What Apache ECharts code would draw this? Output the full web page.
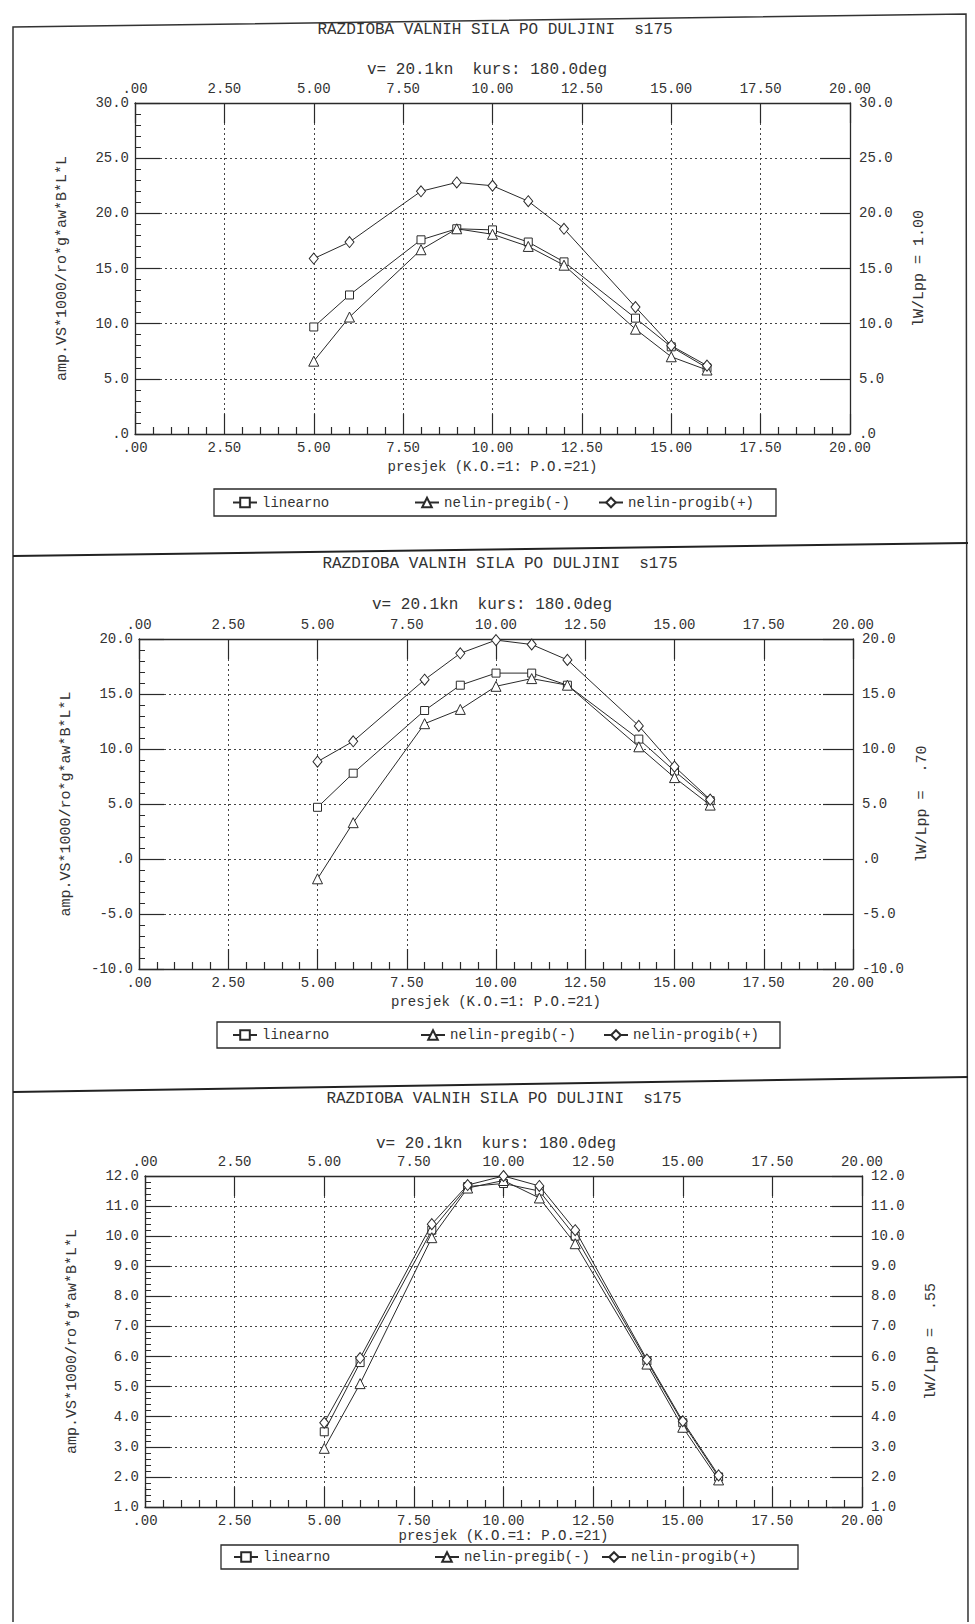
<!DOCTYPE html>
<html>
<head>
<meta charset="utf-8">
<script src="https://cdn.jsdelivr.net/npm/echarts@6/dist/echarts.min.js"></script>
<style>
html,body{margin:0;padding:0;background:#ffffff;}
#c{width:975px;height:1624px;}
</style>
</head>
<body>
<div id="c"></div>
<script>
// ---------------- data ----------------
const sectionX = [5, 6, 8, 9, 10, 11, 12, 14, 15, 16];
const seriesNames = ['linearno', 'nelin-pregib(-)', 'nelin-progib(+)'];

// panel 1 : lW/Lpp = 1.00
const p1Linearno = [9.7, 12.6, 17.6, 18.6, 18.5, 17.4, 15.6, 10.5, 7.9, 6.0];
const p1Pregib   = [6.6, 10.6, 16.7, 18.6, 18.1, 17.0, 15.3, 9.5, 7.0, 5.8];
const p1Progib   = [15.9, 17.4, 22.0, 22.8, 22.5, 21.1, 18.6, 11.5, 8.0, 6.2];

// panel 2 : lW/Lpp = .70
const p2Linearno = [4.7, 7.8, 13.5, 15.8, 16.9, 16.9, 15.8, 10.9, 8.0, 5.3];
const p2Pregib   = [-1.8, 3.3, 12.3, 13.6, 15.7, 16.4, 15.8, 10.2, 7.4, 4.9];
const p2Progib   = [8.85, 10.7, 16.3, 18.7, 19.9, 19.5, 18.1, 12.1, 8.4, 5.4];

// panel 3 : lW/Lpp = .55
const p3Linearno = [3.5, 5.8, 10.2, 11.65, 11.75, 11.5, 10.0, 5.85, 3.8, 2.0];
const p3Pregib   = [2.95, 5.1, 9.95, 11.6, 11.85, 11.27, 9.75, 5.75, 3.65, 1.9];
const p3Progib   = [3.8, 5.95, 10.4, 11.7, 12.0, 11.67, 10.2, 5.9, 3.85, 2.05];

const mainTitle = 'RAZDIOBA VALNIH SILA PO DULJINI  s175';
const subTitle = 'v= 20.1kn  kurs: 180.0deg';
const xAxisName = 'presjek (K.O.=1: P.O.=21)';
const yAxisName = 'amp.VS*1000/ro*g*aw*B*L*L';
const rightNames = ['lW/Lpp = 1.00', 'lW/Lpp =  .70', 'lW/Lpp =  .55'];

const xMin = 0, xMax = 20, xStep = 2.5;
const yRanges = [
  {min: 0, max: 30, step: 5},
  {min: -10, max: 20, step: 5},
  {min: 1, max: 12, step: 1}
];
const panelData = [
  [p1Linearno, p1Pregib, p1Progib],
  [p2Linearno, p2Pregib, p2Progib],
  [p3Linearno, p3Pregib, p3Progib]
];

// ---------------- layout / style ----------------
const FONT = '"Liberation Mono", "DejaVu Sans Mono", monospace';
const INK = '#2a2a2a';
const TXT = '#333333';
const grids = [
  {left: 135, top: 103, width: 715, height: 331},
  {left: 139, top: 639, width: 714, height: 330},
  {left: 145, top: 1176, width: 717, height: 331}
];
const titlePos = [
  {x: 495, t: 22, s: 62},
  {x: 500, t: 556, s: 597},
  {x: 504, t: 1091, s: 1136}
];
const presjekGap = [26, 26, 18];
const legendBoxes = [
  {x: 214, y: 489, w: 562, h: 27, items: [232, 414, 598]},
  {x: 217, y: 1022, w: 563, h: 26, items: [232, 420, 603]},
  {x: 221, y: 1545, w: 577, h: 24, items: [233, 434, 601]}
];
const symbols = ['rect', 'triangle', 'diamond'];
const symbolSizes = [8, 10, [9, 11]];

const fmtX = v => (v === 0 ? '.00' : v.toFixed(2));
const fmtY = v => (v === 0 ? '.0' : v.toFixed(1));

const title = [], xAxis = [], yAxis = [], series = [], legend = [], graphic = [];

grids.forEach((g, i) => {
  const tp = titlePos[i];
  title.push({text: mainTitle, left: tp.x, top: tp.t, textAlign: 'center', padding: 0,
    textStyle: {fontFamily: FONT, fontSize: 16, fontWeight: 'normal', color: TXT}});
  title.push({text: subTitle, left: tp.x - 8, top: tp.s, textAlign: 'center', padding: 0,
    textStyle: {fontFamily: FONT, fontSize: 16, fontWeight: 'normal', color: TXT}});

  // bottom x axis
  xAxis.push({
    type: 'value', gridIndex: i, position: 'bottom', min: xMin, max: xMax, interval: xStep,
    axisLine: {show: true, onZero: false, lineStyle: {color: INK, width: 1.3}},
    axisTick: {show: true, inside: true, length: 20, lineStyle: {color: INK, width: 1.2}},
    minorTick: {show: true, splitNumber: 5, length: 7, lineStyle: {color: INK, width: 1.2}},
    axisLabel: {margin: 7, formatter: fmtX, fontFamily: FONT, fontSize: 14, color: TXT},
    splitLine: {show: true, lineStyle: {color: '#444', width: 1, type: [2, 3]}},
    name: xAxisName, nameLocation: 'middle', nameGap: presjekGap[i],
    nameTextStyle: {fontFamily: FONT, fontSize: 14, color: TXT}
  });
  // top x axis
  xAxis.push({
    type: 'value', gridIndex: i, position: 'top', min: xMin, max: xMax, interval: xStep,
    axisLine: {show: true, onZero: false, lineStyle: {color: INK, width: 1.3}},
    axisTick: {show: true, inside: true, length: 20, lineStyle: {color: INK, width: 1.2}},
    axisLabel: {margin: 7, formatter: fmtX, fontFamily: FONT, fontSize: 14, color: TXT},
    splitLine: {show: false}
  });
  const r = yRanges[i];
  yAxis.push({
    type: 'value', gridIndex: i, position: 'left', min: r.min, max: r.max, interval: r.step,
    axisLine: {show: true, onZero: false, lineStyle: {color: INK, width: 1.3}},
    axisTick: {show: true, inside: true, length: 25, lineStyle: {color: INK, width: 1.2}},
    minorTick: {show: true, splitNumber: 5, length: 6, lineStyle: {color: INK, width: 1}},
    axisLabel: {margin: 6, formatter: fmtY, fontFamily: FONT, fontSize: 14, color: TXT},
    splitLine: {show: true, lineStyle: {color: '#444', width: 1, type: [2, 3]}},
    name: yAxisName, nameLocation: 'middle', nameGap: 65, nameRotate: 90,
    nameTextStyle: {fontFamily: FONT, fontSize: 15, color: TXT}
  });
  yAxis.push({
    type: 'value', gridIndex: i, position: 'right', min: r.min, max: r.max, interval: r.step,
    axisLine: {show: true, onZero: false, lineStyle: {color: INK, width: 1.3}},
    axisTick: {show: true, inside: true, length: 30, lineStyle: {color: INK, width: 1.2}},
    axisLabel: {margin: 9, formatter: fmtY, fontFamily: FONT, fontSize: 14, color: TXT},
    splitLine: {show: false},
    name: rightNames[i], nameLocation: 'middle', nameGap: 62, nameRotate: 90,
    nameTextStyle: {fontFamily: FONT, fontSize: 15, color: TXT}
  });

  panelData[i].forEach((vals, k) => {
    series.push({
      type: 'line', name: seriesNames[k], xAxisIndex: i * 2, yAxisIndex: i * 2,
      data: sectionX.map((x, j) => [x, vals[j]]),
      symbol: symbols[k], symbolSize: symbolSizes[k], showSymbol: true, showAllSymbol: true,
      lineStyle: {color: INK, width: 1},
      itemStyle: {color: '#ffffff', borderColor: INK, borderWidth: 1},
      emphasis: {disabled: true}, z: 3 + k
    });
  });

  const lb = legendBoxes[i];
  graphic.push({type: 'rect', shape: {x: lb.x, y: lb.y, width: lb.w, height: lb.h},
    style: {fill: null, stroke: INK, lineWidth: 1.3}, silent: true});
  seriesNames.forEach((nm, k) => {
    legend.push({
      data: [nm], left: lb.items[k], top: lb.y + lb.h / 2 - 7, padding: 0,
      itemWidth: 24, itemHeight: 12, itemGap: 0, selectedMode: false,
      textStyle: {fontFamily: FONT, fontSize: 14, color: TXT}
    });
  });
});

// page frame (scanned listing borders)
graphic.push({type: 'polyline', shape: {points: [[13, 1622], [13, 27], [966, 14], [968, 1622]]},
  style: {fill: null, stroke: '#333', lineWidth: 1.5}, silent: true});
graphic.push({type: 'line', shape: {x1: 13, y1: 556, x2: 968, y2: 543},
  style: {stroke: '#222', lineWidth: 2}, silent: true});
graphic.push({type: 'line', shape: {x1: 13, y1: 1092, x2: 968, y2: 1077},
  style: {stroke: '#222', lineWidth: 2}, silent: true});

const chart = echarts.init(document.getElementById('c'), null, {renderer: 'svg', width: 975, height: 1624});
chart.setOption({
  animation: false,
  backgroundColor: '#ffffff',
  title, legend, grid: grids.map(g => Object.assign({containLabel: false}, g)),
  xAxis, yAxis, series, graphic
});
</script>
</body>
</html>
